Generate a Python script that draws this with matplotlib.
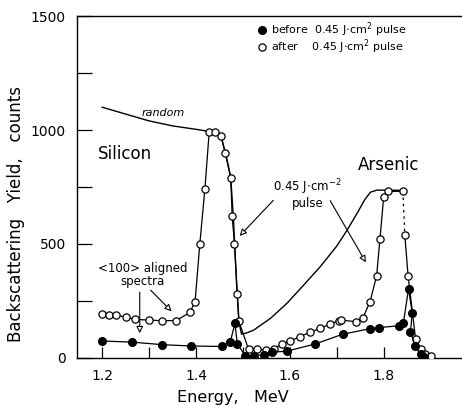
import matplotlib
matplotlib.use("Agg")
import matplotlib.pyplot as plt
from matplotlib.ticker import FixedLocator

# ---------------- data ----------------
before_E = [1.200, 1.264, 1.327, 1.390, 1.455, 1.473, 1.483, 1.488, 1.505, 1.523, 1.544,
            1.562, 1.593, 1.654, 1.713, 1.771, 1.791, 1.832, 1.842, 1.853, 1.861, 1.857,
            1.867, 1.879, 1.887]
before_Y = [73, 68, 57, 51, 49, 70, 150, 60, 9, 9, 13,
            24, 28, 60, 103, 127, 132, 140, 152, 302, 195, 112,
            53, 18, 3]

after_E_a = [1.200, 1.215, 1.230, 1.250, 1.270, 1.300, 1.328, 1.358, 1.387, 1.398,
             1.408, 1.419, 1.428, 1.440, 1.453, 1.462, 1.474, 1.477, 1.482, 1.488, 1.491,
             1.512, 1.530, 1.549, 1.567, 1.584, 1.601, 1.621, 1.644, 1.664, 1.685, 1.704,
             1.709, 1.740, 1.756, 1.771, 1.785, 1.792, 1.800, 1.809, 1.841]
after_Y_a = [190, 188, 186, 178, 168, 165, 162, 163, 199, 246,
             499, 743, 990, 990, 975, 901, 791, 621, 499, 279, 162,
             36, 37, 33, 40, 60, 73, 92, 112, 129, 146, 162,
             165, 158, 176, 246, 360, 520, 705, 730, 731]
after_E_b = [1.845, 1.852, 1.868, 1.879, 1.888, 1.900]
after_Y_b = [540, 360, 82, 38, 15, 5]

random_E = [1.200, 1.250, 1.300, 1.350, 1.400, 1.430, 1.445, 1.455, 1.465, 1.474,
            1.480, 1.487, 1.492, 1.497, 1.510, 1.523, 1.559, 1.594, 1.630, 1.665, 1.700,
            1.722, 1.745, 1.760, 1.772, 1.786, 1.841]
random_Y = [1100, 1070, 1040, 1018, 1003, 993, 983, 960, 880, 791,
            600, 300, 150, 103, 110, 121, 173, 239, 320, 400, 490,
            560, 640, 695, 727, 736, 735]

x_major = [1.2, 1.4, 1.6, 1.8]
x_labels = ["1.2", "1.4", "1.6", "1.8"]
y_major = [0, 500, 1000, 1500]
y_labels = ["0", "500", "1000", "1500"]

# ---------------- figure ----------------
plt.rcParams['font.family'] = ['DejaVu Sans']
fig = plt.figure(figsize=(4.62, 4.05), dpi=100)
ax = fig.add_axes([0.167, 0.117, 0.83, 0.843])

ax.set_xlim(1.1466, 1.964)
ax.set_ylim(0, 1500)

# random curve
ax.plot(random_E, random_Y, color='black', lw=1.0, zorder=2)

# after pulse (open circles)
ax.plot(after_E_a, after_Y_a, color='black', lw=0.9, zorder=3)
ax.plot([after_E_a[-1], after_E_b[0]], [after_Y_a[-1], after_Y_b[0]],
        color='black', lw=0.9, ls=(0, (2, 3)), zorder=3)
ax.plot(after_E_b, after_Y_b, color='black', lw=0.9, zorder=3)
ax.plot(after_E_a + after_E_b, after_Y_a + after_Y_b, ls='none', marker='o',
        ms=5.2, mfc='white', mec='black', mew=0.9, zorder=4)

# before pulse (filled circles)
ax.plot(before_E, before_Y, color='black', lw=0.9, marker='o', ms=5.5,
        mfc='black', mec='black', zorder=5)

# axes styling
ax.spines['right'].set_visible(False)
for s in ['left', 'bottom', 'top']:
    ax.spines[s].set_linewidth(1.0)

ax.xaxis.set_major_locator(FixedLocator(x_major))
ax.set_xticklabels(x_labels)
ax.xaxis.set_minor_locator(FixedLocator([1.3, 1.5, 1.7]))
ax.yaxis.set_major_locator(FixedLocator(y_major))
ax.set_yticklabels(y_labels)
ax.yaxis.set_minor_locator(FixedLocator([250, 750, 1250]))
ax.tick_params(axis='x', which='both', direction='in', length=8, width=0.9,
               labelsize=10, pad=8, top=False)
ax.tick_params(axis='y', which='both', direction='in', length=11, width=0.9,
               labelsize=10, pad=8, right=False)

ax.set_xlabel("Energy,   MeV", fontsize=11.5)
ax.xaxis.set_label_coords(0.405, -0.095)
ax.set_ylabel("Backscattering   Yield,   counts", fontsize=12)
ax.yaxis.set_label_coords(-0.135, 0.42)

# legend (manual, as in the figure)
ax.plot([1.541], [1440], ls='none', marker='o', ms=5.5, mfc='black', mec='black',
        clip_on=False)
ax.plot([1.541], [1365], ls='none', marker='o', ms=5.2, mfc='white', mec='black',
        mew=0.9, clip_on=False)
ax.text(1.56, 1440, "before  0.45 J$\\cdot$cm$^{2}$ pulse", fontsize=8, va='center')
ax.text(1.56, 1365, "after    0.45 J$\\cdot$cm$^{2}$ pulse", fontsize=8, va='center')

# annotations
ax.text(1.33, 1075, "random", fontsize=8, style='italic', ha='center', va='center')
ax.text(1.19, 893, "Silicon", fontsize=12, ha='left', va='center')
ax.text(1.81, 845, "Arsenic", fontsize=12, ha='center', va='center')
ax.text(1.638, 720, "0.45 J$\\cdot$cm$^{-2}$\npulse", fontsize=8.5, ha='center',
        va='center', linespacing=1.0)
ax.text(1.286, 364, "<100> aligned\nspectra", fontsize=8.5, ha='center',
        va='center', linespacing=1.0)

ap = dict(arrowstyle='-|>', fc='white', ec='black', lw=0.8, mutation_scale=10)
ax.annotate("", xy=(1.489, 526), xytext=(1.569, 700), arrowprops=ap)
ax.annotate("", xy=(1.765, 408), xytext=(1.683, 700), arrowprops=ap)
ax.annotate("", xy=(1.28, 95), xytext=(1.28, 300), arrowprops=ap)
ax.annotate("", xy=(1.352, 195), xytext=(1.299, 305), arrowprops=ap)

fig.savefig("out.png", dpi=100)
